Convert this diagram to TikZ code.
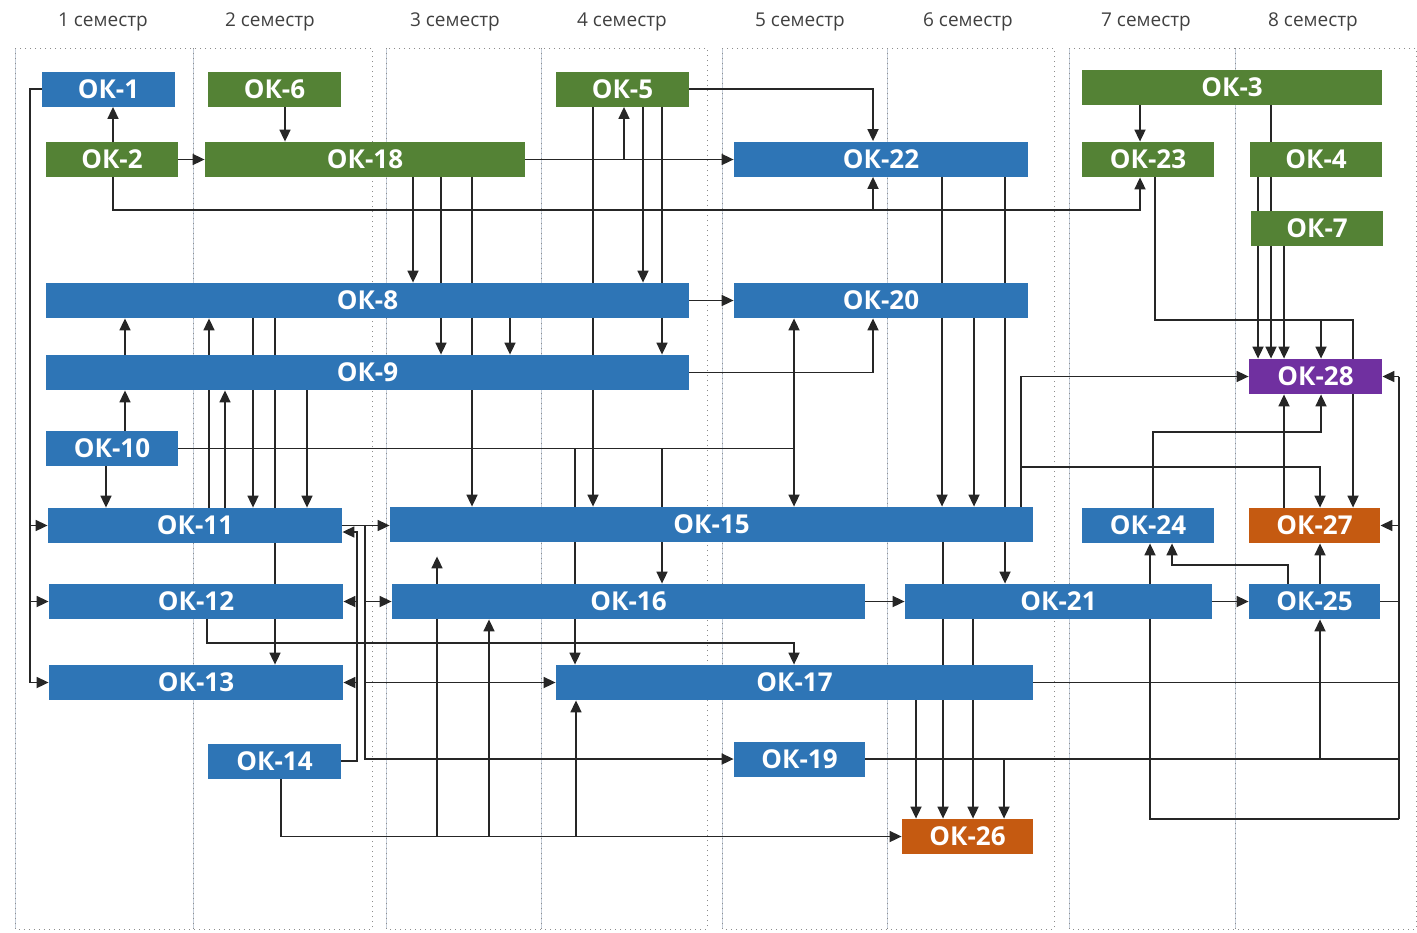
\documentclass[tikz,border=0pt]{standalone}
\usepackage{fontspec}
\setmainfont{Open Sans}
\usetikzlibrary{arrows.meta,backgrounds}

\definecolor{okblue}{HTML}{2E75B6}
\definecolor{okgreen}{HTML}{548235}
\definecolor{okpurple}{HTML}{7030A0}
\definecolor{okorange}{HTML}{C55A11}
\definecolor{gridline}{HTML}{C5CEDA}

\tikzset{
  ok/.style={inner sep=0pt, minimum height=17.5pt, text=white,
    font=\fontsize{13}{15}\selectfont\bfseries},
  bluebox/.style={ok, fill=okblue, minimum width=#1},
  greenbox/.style={ok, fill=okgreen, minimum width=#1},
  purplebox/.style={ok, fill=okpurple, minimum width=#1},
  orangebox/.style={ok, fill=okorange, minimum width=#1},
  sem/.style={anchor=base, text=black!75, font=\fontsize{9.5}{11}\selectfont},
  grp/.style={draw=black!45, dotted, line width=0.5pt},
  rule/.style={draw=gridline, line width=0.4pt},
  con/.style={draw=black!85, line width=0.85pt},
  arr/.style={con, -{Triangle[length=6pt,width=5.5pt]}}
}

\begin{document}
\begin{tikzpicture}[x=0.5pt,y=-0.5pt]
\useasboundingbox (0,0) rectangle (1417,932);

\node[sem] (s1) at (103,26) {1 семестр};
\node[sem] (s2) at (270,26) {2 семестр};
\node[sem] (s3) at (455,26) {3 семестр};
\node[sem] (s4) at (622,26) {4 семестр};
\node[sem] (s5) at (800,26) {5 семестр};
\node[sem] (s6) at (968,26) {6 семестр};
\node[sem] (s7) at (1146,26) {7 семестр};
\node[sem] (s8) at (1313,26) {8 семестр};

\node[bluebox=66.5pt] (ok1) at (108.5,89) {ОК-1};
\node[greenbox=66.5pt] (ok6) at (274.5,89) {ОК-6};
\node[greenbox=66.5pt] (ok5) at (622.5,89) {ОК-5};
\node[greenbox=150pt] (ok3) at (1232,87) {ОК-3};
\node[greenbox=66pt] (ok2) at (112,159.5) {ОК-2};
\node[greenbox=160pt] (ok18) at (365,159.5) {ОК-18};
\node[bluebox=147pt] (ok22) at (881,159) {ОК-22};
\node[greenbox=66pt] (ok23) at (1148,159.5) {ОК-23};
\node[greenbox=66pt] (ok4) at (1316,159) {ОК-4};
\node[greenbox=66pt] (ok7) at (1317,228.5) {ОК-7};
\node[bluebox=321.5pt] (ok8) at (367.5,300.5) {ОК-8};
\node[bluebox=147pt] (ok20) at (881,300.5) {ОК-20};
\node[bluebox=321.5pt] (ok9) at (367.5,372.5) {ОК-9};
\node[purplebox=66.5pt] (ok28) at (1315.5,376.5) {ОК-28};
\node[bluebox=66pt] (ok10) at (112,448.5) {ОК-10};
\node[bluebox=147pt] (ok11) at (195,525.5) {ОК-11};
\node[bluebox=321.5pt] (ok15) at (711.5,524.5) {ОК-15};
\node[bluebox=66pt] (ok24) at (1148,525.5) {ОК-24};
\node[orangebox=65.5pt] (ok27) at (1314.5,525.5) {ОК-27};
\node[bluebox=147pt] (ok12) at (196,601.5) {ОК-12};
\node[bluebox=236.5pt] (ok16) at (628.5,601.5) {ОК-16};
\node[bluebox=153.5pt] (ok21) at (1058.5,601.5) {ОК-21};
\node[bluebox=65.5pt] (ok25) at (1314.5,601.5) {ОК-25};
\node[bluebox=147pt] (ok13) at (196,682.5) {ОК-13};
\node[bluebox=238.5pt] (ok17) at (794.5,682.5) {ОК-17};
\node[bluebox=66.5pt] (ok14) at (274.5,761) {ОК-14};
\node[bluebox=65.5pt] (ok19) at (799.5,759) {ОК-19};
\node[orangebox=65.5pt] (ok26) at (967.5,836.5) {ОК-26};

\begin{scope}[on background layer]
\foreach \x in {15,193,386,541,722,887,1069,1235}
  \draw[rule] (\x,48) -- (\x,929);
\foreach \a/\b in {15/372,386/707,722/1054,1069/1416}
  \draw[grp] (\a,48) rectangle (\b,929);
\foreach \x in {193,541,887,1235}
  \draw[grp] (\x,48) -- (\x,929);

\draw[arr] (113,0 |- ok2.north) -- (113,0 |- ok1.south);
\draw[arr] (ok2.east) -- (ok18.west);
\draw[arr] (285,0 |- ok6.south) -- (285,0 |- ok18.north);
\draw[arr] (ok1.west) -| (30,0 |- ok13.west) -- (ok13.west);
\draw[arr] (30,0 |- ok11.west) -- (ok11.west);
\draw[arr] (30,0 |- ok12.west) -- (ok12.west);
\draw[arr] (113,0 |- ok2.south) |- (1140,210) -- (1140,0 |- ok23.south);
\draw[arr] (873,210) -- (873,0 |- ok22.south);
\draw[arr] (ok18.east) -- (ok18.east -| ok22.west);
\draw[arr] (624,0 |- ok18.east) -- (624,0 |- ok5.south);
\draw[arr] (ok5.east) -| (873,0 |- ok22.north);
\draw[arr] (1140,0 |- ok3.south) -- (1140,0 |- ok23.north);

\draw[arr] (413,0 |- ok18.south) -- (413,0 |- ok8.north);
\draw[arr] (441,0 |- ok18.south) -- (441,0 |- ok9.north);
\draw[arr] (472,0 |- ok18.south) -- (472,0 |- ok15.north);
\draw[arr] (593,0 |- ok5.south) -- (593,0 |- ok15.north);
\draw[arr] (643,0 |- ok5.south) -- (643,0 |- ok8.north);
\draw[arr] (662,0 |- ok5.south) -- (662,0 |- ok9.north);
\draw[arr] (510,0 |- ok8.south) -- (510,0 |- ok9.north);
\draw[arr] (125,0 |- ok9.north) -- (125,0 |- ok8.south);
\draw[arr] (125,0 |- ok10.north) -- (125,0 |- ok9.south);
\draw[arr] (209,0 |- ok11.north) -- (209,0 |- ok8.south);
\draw[arr] (225,0 |- ok11.north) -- (225,0 |- ok9.south);
\draw[arr] (253,0 |- ok8.south) -- (253,0 |- ok11.north);
\draw[arr] (275,0 |- ok8.south) -- (275,0 |- ok13.north);
\draw[arr] (307,0 |- ok9.south) -- (307,0 |- ok11.north);
\draw[arr] (106,0 |- ok10.south) -- (106,0 |- ok11.north);

\draw[con] (ok10.east) -- (794,0 |- ok10.east);
\draw[arr] (794,0 |- ok10.east) -- (794,0 |- ok20.south);
\draw[arr] (794,0 |- ok10.east) -- (794,0 |- ok15.north);
\draw[arr] (662,0 |- ok10.east) -- (662,0 |- ok16.north);
\draw[arr] (575,0 |- ok10.east) -- (575,0 |- ok17.north);
\draw[arr] (ok8.east) -- (ok8.east -| ok20.west);
\draw[arr] (ok9.east) -| (873,0 |- ok20.south);

\draw[arr] (942,0 |- ok22.south) -- (942,0 |- ok15.north);
\draw[arr] (974,0 |- ok20.south) -- (974,0 |- ok15.north);
\draw[arr] (1005,0 |- ok22.south) -- (1005,0 |- ok21.north);
\draw[arr] (943,0 |- ok15.south) -- (943,0 |- ok26.north);
\draw[arr] (973,0 |- ok21.south) -- (973,0 |- ok26.north);
\draw[arr] (916,0 |- ok17.south) -- (916,0 |- ok26.north);

\draw[arr] (1021,0 |- ok15.north) |- (ok28.west);
\draw[arr] (1021,467) -| (1320,0 |- ok27.north);
\draw[arr] (1258,0 |- ok4.south) -- (1258,0 |- ok28.north);
\draw[arr] (1271,0 |- ok3.south) -- (1271,0 |- ok28.north);
\draw[arr] (1284,0 |- ok7.south) -- (1284,0 |- ok28.north);
\draw[arr] (1155,0 |- ok23.south) |- (1353,320) -- (1353,0 |- ok27.north);
\draw[arr] (1321,320) -- (1321,0 |- ok28.north);
\draw[arr] (1153,0 |- ok24.north) |- (1321,432) -- (1321,0 |- ok28.south);
\draw[arr] (1284,0 |- ok27.north) -- (1284,0 |- ok28.south);
\draw[arr] (1320,0 |- ok25.north) -- (1320,0 |- ok27.south);
\draw[arr] (1288,0 |- ok25.north) |- (1172,565) -- (1172,0 |- ok24.south);
\draw[arr] (1150,0 |- ok21.north) -- (1150,0 |- ok24.south);
\draw[arr] (ok16.east) -- (ok16.east -| ok21.west);
\draw[arr] (ok21.east) -- (ok21.east -| ok25.west);

\draw[con] (1399,0 |- ok28.east) -- (1399,819);
\draw[arr] (1399,0 |- ok28.east) -- (ok28.east);
\draw[arr] (1399,0 |- ok27.east) -- (ok27.east);
\draw[con] (ok25.east) -- (1399,0 |- ok25.east);
\draw[con] (ok17.east) -- (1399,0 |- ok17.east);
\draw[con] (1150,0 |- ok21.south) |- (1399,819);
\draw[con] (ok19.east) -- (1399,0 |- ok19.east);
\draw[arr] (1004,0 |- ok19.east) -- (1004,0 |- ok26.north);
\draw[arr] (1320,0 |- ok19.east) -- (1320,0 |- ok25.south);

\draw[arr] (207,0 |- ok12.south) |- (794,643) -- (794,0 |- ok17.north);
\draw[arr] (ok14.east) -| (357,532) -- (ok11.east |- 0,532);
\draw[arr] (357,0 |- ok12.east) -- (ok12.east);
\draw[arr] (357,0 |- ok13.east) -- (ok13.east);
\draw[arr] (ok11.east) -- (ok11.east -| ok15.west);
\draw[arr] (365,0 |- ok11.east) -- (365,0 |- ok19.west) -- (ok19.west);
\draw[arr] (365,0 |- ok16.west) -- (ok16.west);
\draw[arr] (365,0 |- ok17.west) -- (ok17.west);

\draw[arr] (281,0 |- ok14.south) |- (ok26.west);
\draw[arr, shorten >=7pt] (437,0 |- ok26.west) -- (437,0 |- ok15.south);
\draw[arr] (489,0 |- ok26.west) -- (489,0 |- ok16.south);
\draw[arr] (576,0 |- ok26.west) -- (576,0 |- ok17.south);
\end{scope}
\end{tikzpicture}
\end{document}
